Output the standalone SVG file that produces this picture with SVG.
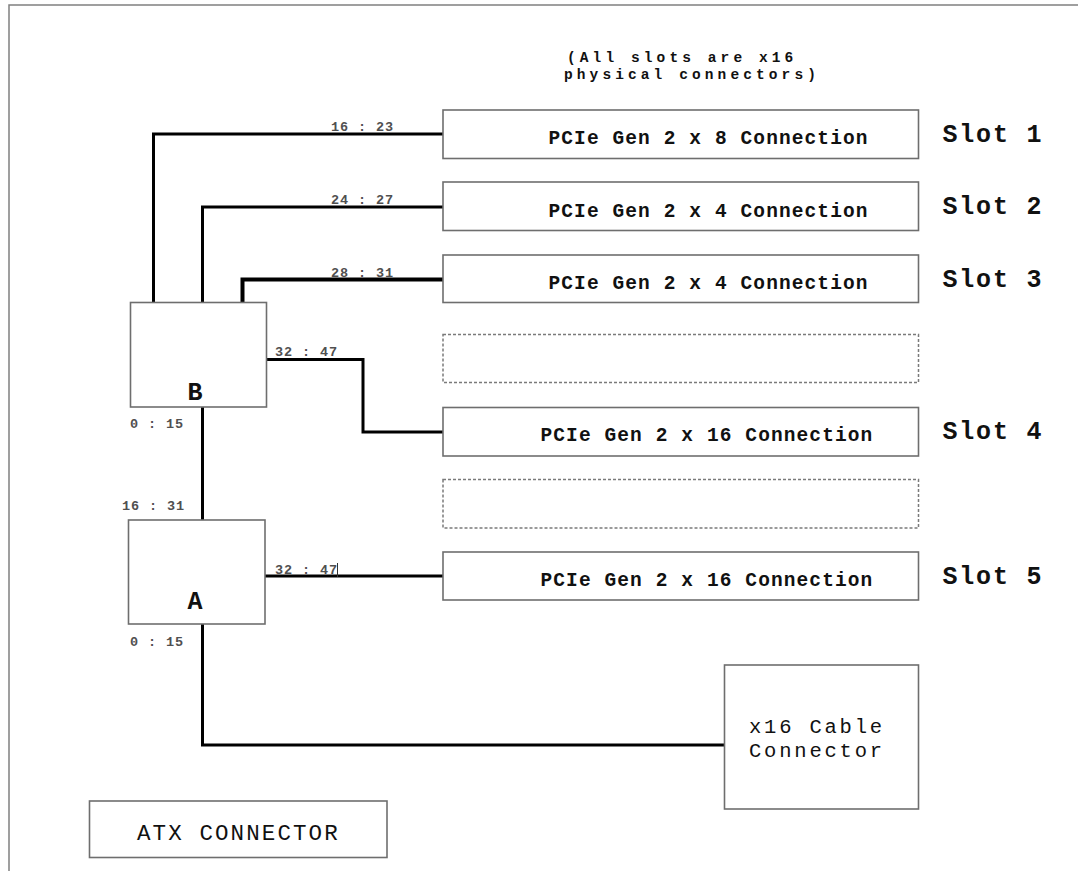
<svg xmlns="http://www.w3.org/2000/svg" width="1078" height="871" viewBox="0 0 1078 871">
<style>
.box{fill:#fff;stroke:#6e6e6e;stroke-width:1.6}
.dash{fill:#fff;stroke:#7a7a7a;stroke-width:1.5;stroke-dasharray:3 2}
.wire{fill:none;stroke:#000;stroke-width:3;stroke-linejoin:miter;stroke-linecap:square}
.mono{font-family:"Liberation Mono","Courier New",monospace;fill:#111}
.pcie{font-size:19.5px;font-weight:bold;letter-spacing:1.1px}
.slot{font-size:25px;font-weight:bold;letter-spacing:1.8px}
.lbl{font-size:13.5px;font-weight:bold;fill:#505050;letter-spacing:0.9px}
.chip{font-size:25px;font-weight:bold;text-anchor:middle}
.big{font-size:22.5px;letter-spacing:1.6px}
.cab{font-size:20.5px;letter-spacing:2.8px}
.title{font-size:14.5px;font-weight:bold;letter-spacing:4.1px}
</style>
<rect x="0" y="0" width="1078" height="871" fill="#fff"/>
<rect id="frame" x="9" y="5" width="1100" height="900" fill="none" stroke="#808080" stroke-width="1.5"/>

<text class="mono title" x="567" y="62">(All slots are x16</text>
<text class="mono title" x="564" y="79">physical connectors)</text>

<g id="connectors">
<polyline class="wire" points="153.5,302 153.5,134 443,134"/>
<polyline class="wire" points="202.5,302 202.5,207 443,207"/>
<polyline class="wire" style="stroke-width:4" points="242.5,302 242.5,279.5 443,279.5"/>
<polyline class="wire" points="267,359.5 363,359.5 363,432 443,432"/>
<line class="wire" x1="202.5" y1="408" x2="202.5" y2="520"/>
<line class="wire" x1="266" y1="576" x2="443" y2="576"/>
<line x1="337.5" y1="563" x2="337.5" y2="577" stroke="#333" stroke-width="1"/>
<polyline class="wire" points="202.5,625 202.5,745 724,745"/>
<text class="mono lbl" x="331" y="131">16 : 23</text>
<text class="mono lbl" x="331" y="204">24 : 27</text>
<text class="mono lbl" x="331" y="276.5">28 : 31</text>
<text class="mono lbl" x="275" y="356">32 : 47</text>
<text class="mono lbl" x="130" y="428">0 : 15</text>
<text class="mono lbl" x="122" y="510">16 : 31</text>
<text class="mono lbl" x="275" y="573.5">32 : 47</text>
<text class="mono lbl" x="130" y="646">0 : 15</text>
</g>

<g id="slot1">
<rect class="box" x="443" y="110" width="475.5" height="48.5"/>
<text class="mono pcie" x="548.5" y="144">PCIe Gen 2 x 8 Connection</text>
<text class="mono slot" x="942.5" y="142">Slot 1</text>
</g>
<g id="slot2">
<rect class="box" x="443" y="182" width="475.5" height="48.5"/>
<text class="mono pcie" x="548.5" y="216.5">PCIe Gen 2 x 4 Connection</text>
<text class="mono slot" x="942.5" y="214">Slot 2</text>
</g>
<g id="slot3">
<rect class="box" x="443" y="255" width="475.5" height="47.5"/>
<text class="mono pcie" x="548.5" y="289">PCIe Gen 2 x 4 Connection</text>
<text class="mono slot" x="942.5" y="286.5">Slot 3</text>
</g>
<g id="empty1">
<rect class="dash" x="443" y="334.5" width="475.5" height="48"/>
</g>
<g id="slot4">
<rect class="box" x="443" y="407.5" width="475.5" height="48.5"/>
<text class="mono pcie" x="540.5" y="441">PCIe Gen 2 x 16 Connection</text>
<text class="mono slot" x="942.5" y="439">Slot 4</text>
</g>
<g id="empty2">
<rect class="dash" x="443" y="479.5" width="475.5" height="48.5"/>
</g>
<g id="slot5">
<rect class="box" x="443" y="552" width="475.5" height="48"/>
<text class="mono pcie" x="540.5" y="585.5">PCIe Gen 2 x 16 Connection</text>
<text class="mono slot" x="942.5" y="583.5">Slot 5</text>
</g>

<g id="switchB">
<rect class="box" x="130.5" y="302.5" width="136" height="104.5"/>
<text class="mono chip" x="195" y="400">B</text>
</g>
<g id="switchA">
<rect class="box" x="128.5" y="520" width="136.5" height="104"/>
<text class="mono chip" x="195" y="608.5">A</text>
</g>
<g id="cable">
<rect class="box" x="724.5" y="665" width="194" height="144"/>
<text class="mono cab" x="749" y="732.5">x16 Cable</text>
<text class="mono cab" x="749" y="756.5">Connector</text>
</g>
<g id="atx">
<rect class="box" x="89.5" y="801" width="297.5" height="56.5"/>
<text class="mono big" style="letter-spacing:2.1px" x="137" y="839.5">ATX CONNECTOR</text>
</g>
</svg>
